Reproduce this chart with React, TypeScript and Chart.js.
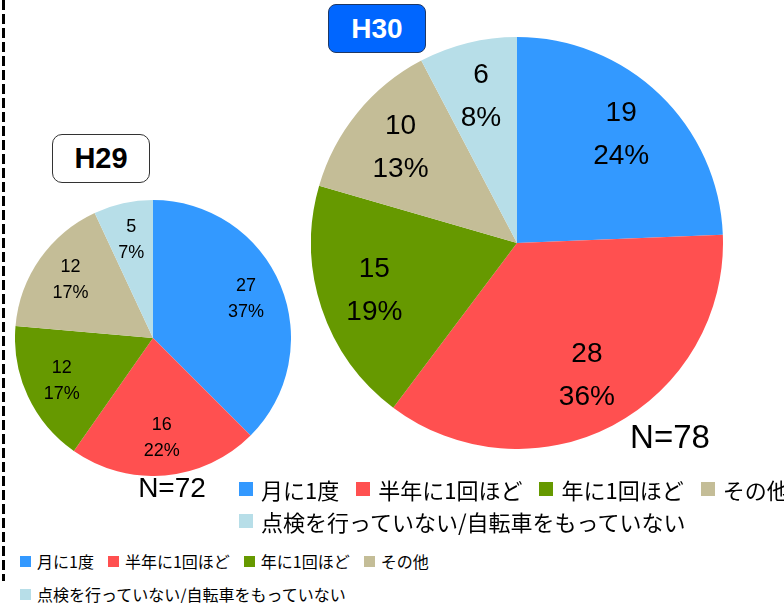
import React, { useEffect, useRef } from "react";
import Chart from "chart.js/auto";

const categories = [
  "月に1度",
  "半年に1回ほど",
  "年に1回ほど",
  "その他",
  "点検を行っていない/自転車をもっていない",
];
const colors = ["#3399FF", "#FF5050", "#669900", "#C4BD97", "#B7DEE8"];
const h29Values = [27, 16, 12, 12, 5];
const h29Pct = [37, 22, 17, 17, 7];
const h30Values = [19, 28, 15, 10, 6];
const h30Pct = [24, 36, 19, 13, 8];

const LABEL_FONT = "'Liberation Sans', Arial, sans-serif";
const CJK_FONT = "'Noto Sans CJK JP', 'Noto Sans', sans-serif";

function makePie(
  canvas: HTMLCanvasElement,
  values: number[],
  pct: number[],
  fontSize: number,
  lineGap: number
) {
  const labelPlugin = {
    id: "sliceLabels",
    afterDatasetsDraw(chart: any) {
      const ctx = chart.ctx;
      const meta = chart.getDatasetMeta(0);
      ctx.save();
      ctx.fillStyle = "#000";
      ctx.font = `${fontSize}px ${LABEL_FONT}`;
      ctx.textAlign = "center";
      ctx.textBaseline = "middle";
      meta.data.forEach((arc: any, i: number) => {
        const p = arc.getProps(["x", "y", "startAngle", "endAngle", "outerRadius"], true);
        const mid = (p.startAngle + p.endAngle) / 2;
        const r = p.outerRadius * 0.73;
        const cx = p.x + Math.cos(mid) * r;
        const cy = p.y + Math.sin(mid) * r;
        ctx.fillText(String(values[i]), cx, cy - lineGap / 2);
        ctx.fillText(`${pct[i]}%`, cx, cy + lineGap / 2);
      });
      ctx.restore();
    },
  };
  return new Chart(canvas, {
    type: "pie",
    data: {
      labels: categories,
      datasets: [
        {
          data: values,
          backgroundColor: colors,
          borderWidth: 0,
        },
      ],
    },
    options: {
      responsive: false,
      animation: false,
      devicePixelRatio: 1,
      layout: { padding: 0 },
      plugins: {
        legend: { display: false },
        tooltip: { enabled: false },
        title: { display: false },
      },
    },
    plugins: [labelPlugin],
  });
}

function Legend({
  left,
  top,
  rows,
  fontSize,
  square,
  textGap,
  itemGap,
  rowHeight,
}: {
  left: number;
  top: number;
  rows: number[][];
  fontSize: number;
  square: number;
  textGap: number;
  itemGap: number;
  rowHeight: number;
}) {
  return (
    <div style={{ position: "absolute", left, top }}>
      {rows.map((row, ri) => (
        <div
          key={ri}
          style={{
            display: "flex",
            alignItems: "center",
            height: rowHeight,
            whiteSpace: "nowrap",
            gap: itemGap,
          }}
        >
          {row.map((ci) => (
            <div key={ci} style={{ display: "flex", alignItems: "center" }}>
              <span
                style={{
                  display: "inline-block",
                  width: square,
                  height: square,
                  background: colors[ci],
                  marginRight: textGap,
                }}
              />
              <span
                style={{
                  fontFamily: CJK_FONT,
                  fontSize,
                  lineHeight: `${rowHeight}px`,
                  color: "#000",
                }}
              >
                {categories[ci]}
              </span>
            </div>
          ))}
        </div>
      ))}
    </div>
  );
}

export default function App() {
  const smallRef = useRef<HTMLCanvasElement>(null);
  const bigRef = useRef<HTMLCanvasElement>(null);

  useEffect(() => {
    const c1 = makePie(smallRef.current!, h29Values, h29Pct, 18, 26);
    const c2 = makePie(bigRef.current!, h30Values, h30Pct, 28, 43);
    return () => {
      c1.destroy();
      c2.destroy();
    };
  }, []);

  return (
    <div
      style={{
        position: "fixed",
        left: 0,
        top: 0,
        width: 784,
        height: 603,
        overflow: "hidden",
        background: "#fff",
      }}
    >
      {/* dashed divider */}
      <div
        style={{
          position: "absolute",
          left: 2,
          top: 0,
          width: 3,
          height: 581,
          background:
            "repeating-linear-gradient(to bottom, #000 0px, #000 10px, transparent 10px, transparent 14px)",
        }}
      />

      {/* H29 pie */}
      <canvas
        ref={smallRef}
        width={276}
        height={276}
        style={{ position: "absolute", left: 15, top: 200, width: 276, height: 276 }}
      />
      {/* H30 pie */}
      <canvas
        ref={bigRef}
        width={412}
        height={412}
        style={{ position: "absolute", left: 311, top: 37, width: 412, height: 412 }}
      />

      {/* titles */}
      <div
        style={{
          position: "absolute",
          left: 52,
          top: 134,
          width: 96,
          height: 47,
          border: "1px solid #333",
          borderRadius: 10,
          background: "#fff",
          display: "flex",
          alignItems: "center",
          justifyContent: "center",
          fontFamily: LABEL_FONT,
          fontWeight: "bold",
          fontSize: 29,
          color: "#000",
        }}
      >
        H29
      </div>
      <div
        style={{
          position: "absolute",
          left: 328,
          top: 4,
          width: 96,
          height: 47,
          border: "1px solid #1F3864",
          borderRadius: 8,
          background: "#0066FF",
          display: "flex",
          alignItems: "center",
          justifyContent: "center",
          fontFamily: LABEL_FONT,
          fontWeight: 600,
          fontSize: 28,
          color: "#fff",
        }}
      >
        H30
      </div>

      {/* N labels */}
      <div
        style={{
          position: "absolute",
          left: 112,
          top: 472,
          width: 120,
          textAlign: "center",
          fontFamily: LABEL_FONT,
          fontSize: 28,
          lineHeight: "32px",
          color: "#000",
        }}
      >
        N=72
      </div>
      <div
        style={{
          position: "absolute",
          left: 610,
          top: 418,
          width: 120,
          textAlign: "center",
          fontFamily: LABEL_FONT,
          fontSize: 33,
          lineHeight: "38px",
          color: "#000",
        }}
      >
        N=78
      </div>

      {/* H30 legend */}
      <Legend
        left={239}
        top={473}
        rows={[
          [0, 1, 2, 3],
          [4],
        ]}
        fontSize={22}
        square={14}
        textGap={8}
        itemGap={17}
        rowHeight={32}
      />

      {/* H29 legend */}
      <Legend
        left={20}
        top={545}
        rows={[
          [0, 1, 2, 3],
          [4],
        ]}
        fontSize={16}
        square={11}
        textGap={6}
        itemGap={14}
        rowHeight={33}
      />
    </div>
  );
}
